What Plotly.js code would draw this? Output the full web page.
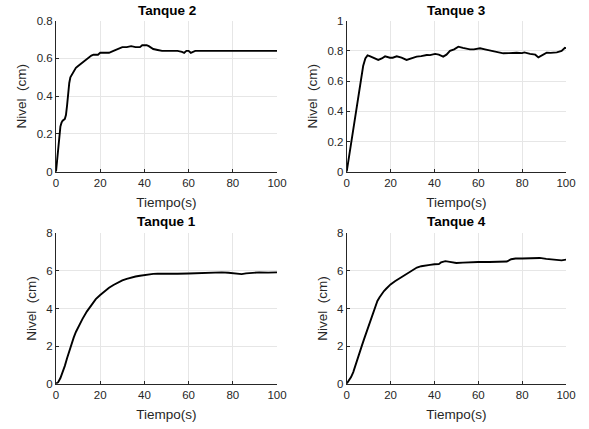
<!DOCTYPE html>
<html>
<head>
<meta charset="utf-8">
<script src="https://cdn.plot.ly/plotly-3.0.1.min.js"></script>
<style>html,body{margin:0;padding:0;background:#fff;}#chart{width:589px;height:429px;}</style>
</head>
<body>
<div id="chart"></div>
<script>
// Tanque 2 (top-left)
const t2 = [0,0.5,1,1.5,2,2.5,3,4,4.5,5,5.5,6,6.5,7,8,9,10,11,12,13,14,15,16,17,18,19,20,22,24,26,28,30,32,34,36,38,39,41,42,43,44,46,48,50,55,57,58,59,60,61,62,63,70,80,90,100];
const v2 = [0,0.06,0.13,0.19,0.24,0.26,0.27,0.28,0.30,0.35,0.42,0.47,0.50,0.51,0.53,0.55,0.56,0.57,0.58,0.59,0.60,0.61,0.615,0.62,0.62,0.62,0.63,0.63,0.63,0.64,0.65,0.66,0.66,0.665,0.66,0.66,0.67,0.67,0.665,0.655,0.65,0.645,0.64,0.64,0.64,0.635,0.63,0.64,0.64,0.63,0.635,0.64,0.64,0.64,0.64,0.64];
// Tanque 3 (top-right)
const t3 = [0,2,4,6,7.5,8.5,9.5,10.5,12,14.4,16,17.5,19.7,21,22.8,25,27.3,29,31.9,34,36.5,38,40.3,42,44,45.5,47.1,49,50.9,53,56.2,58,60.8,63,65.4,68,71.4,74,77.5,80,81,83.6,86,87.4,89,91.2,93,95.8,98,99.5,100];
const v3 = [0,0.19,0.38,0.57,0.70,0.75,0.77,0.765,0.755,0.74,0.75,0.764,0.755,0.755,0.764,0.755,0.74,0.748,0.762,0.765,0.773,0.772,0.78,0.775,0.762,0.775,0.80,0.81,0.828,0.82,0.81,0.81,0.817,0.81,0.804,0.795,0.784,0.785,0.788,0.785,0.79,0.78,0.775,0.757,0.77,0.788,0.787,0.79,0.80,0.82,0.818];
// Tanque 1 (bottom-left)
const t1 = [0,1,2,3,4,5,6,7,8,9,10,12,14,16,18,20,22,24,26,28,30,32,34,36,38,40,42,44,46,50,55,60,65,70,75,78,80,82,84,86,88,92,96,100];
const v1 = [0,0.08,0.3,0.6,0.95,1.35,1.75,2.1,2.45,2.75,3.0,3.45,3.85,4.2,4.5,4.72,4.92,5.1,5.25,5.38,5.5,5.58,5.65,5.7,5.74,5.78,5.81,5.84,5.85,5.84,5.85,5.86,5.88,5.92,5.92,5.9,5.88,5.85,5.83,5.87,5.9,5.92,5.91,5.92];
// Tanque 4 (bottom-right)
const t4 = [0,1,2,3,4,5,6,7,8,9,10,11,12,13,14,15,16,17,18,19,20,22,24,26,28,30,32,34,36,38,40,42,43,45,47,50,53,56,60,65,70,73,75,77,80,85,88,91,95,98,100];
const v4 = [0,0.15,0.35,0.62,0.95,1.3,1.65,2.05,2.4,2.75,3.1,3.45,3.8,4.15,4.4,4.6,4.78,4.93,5.05,5.18,5.28,5.45,5.6,5.75,5.88,6.05,6.18,6.25,6.3,6.32,6.35,6.36,6.45,6.52,6.48,6.42,6.44,6.46,6.47,6.47,6.5,6.5,6.62,6.66,6.66,6.66,6.69,6.64,6.6,6.56,6.6];

const xTickVals = [0,20,40,60,80,100];
const titles = ['Tanque 2','Tanque 3','Tanque 1','Tanque 4'];
const xLabel = 'Tiempo(s)';
const yLabel = 'Nivel  (cm)';

const FONT = 'Liberation Sans, Arial, Helvetica, sans-serif';
const DARK = '#262626';
const GRID = '#e6e6e6';

const line = {color:'#000000', width:1.9};
const traces = [
  {x:t2, y:v2, xaxis:'x', yaxis:'y', type:'scatter', mode:'lines', line:line, hoverinfo:'skip'},
  {x:t3, y:v3, xaxis:'x2', yaxis:'y2', type:'scatter', mode:'lines', line:line, hoverinfo:'skip'},
  {x:t1, y:v1, xaxis:'x3', yaxis:'y3', type:'scatter', mode:'lines', line:line, hoverinfo:'skip'},
  {x:t4, y:v4, xaxis:'x4', yaxis:'y4', type:'scatter', mode:'lines', line:line, hoverinfo:'skip'}
];

function xax(domain, anchor){
  return {domain:domain, anchor:anchor, range:[0,100], tickvals:xTickVals, showgrid:true, gridcolor:GRID, gridwidth:1,
    zeroline:false, showline:true, linecolor:DARK, linewidth:1, ticks:'inside', ticklen:3, tickcolor:DARK,
    tickfont:{family:FONT, size:11.5, color:DARK}, fixedrange:true,
    title:{text:xLabel, font:{family:FONT, size:13.5, color:DARK}, standoff:10}};
}
function yax(domain, anchor, range, dtick){
  return {domain:domain, anchor:anchor, range:range, dtick:dtick, tick0:0, showgrid:true, gridcolor:GRID, gridwidth:1,
    zeroline:false, showline:true, linecolor:DARK, linewidth:1, ticks:'inside', ticklen:3, tickcolor:DARK,
    tickfont:{family:FONT, size:11.5, color:DARK}, fixedrange:true,
    title:{text:yLabel, font:{family:FONT, size:13.5, color:DARK}, standoff:6}};
}

const dxL = [56/589, 277/589], dxR = [346.7/589, 566/589];
const dyT = [1-171.7/429, 1-20.7/429], dyB = [1-383.7/429, 1-233.3/429];

const layout = {
  width:589, height:429, margin:{l:0,r:0,t:0,b:0}, showlegend:false,
  paper_bgcolor:'#ffffff', plot_bgcolor:'#ffffff',
  xaxis: xax(dxL,'y'), yaxis: yax(dyT,'x',[0,0.8],0.2),
  xaxis2: xax(dxR,'y2'), yaxis2: yax(dyT,'x2',[0,1],0.2),
  xaxis3: xax(dxL,'y3'), yaxis3: yax(dyB,'x3',[0,8],2),
  xaxis4: xax(dxR,'y4'), yaxis4: yax(dyB,'x4',[0,8],2),
  annotations: [
    {text:'<b>'+titles[0]+'</b>', x:(dxL[0]+dxL[1])/2, y:1-10.7/429},
    {text:'<b>'+titles[1]+'</b>', x:(dxR[0]+dxR[1])/2, y:1-10.7/429},
    {text:'<b>'+titles[2]+'</b>', x:(dxL[0]+dxL[1])/2, y:1-221.7/429},
    {text:'<b>'+titles[3]+'</b>', x:(dxR[0]+dxR[1])/2, y:1-221.7/429}
  ].map(a => Object.assign(a, {xref:'paper', yref:'paper', showarrow:false, xanchor:'center', yanchor:'middle',
      font:{family:FONT, size:13.5, color:'#000000'}}))
};

Plotly.newPlot('chart', traces, layout, {staticPlot:true, displayModeBar:false});
</script>
</body>
</html>
